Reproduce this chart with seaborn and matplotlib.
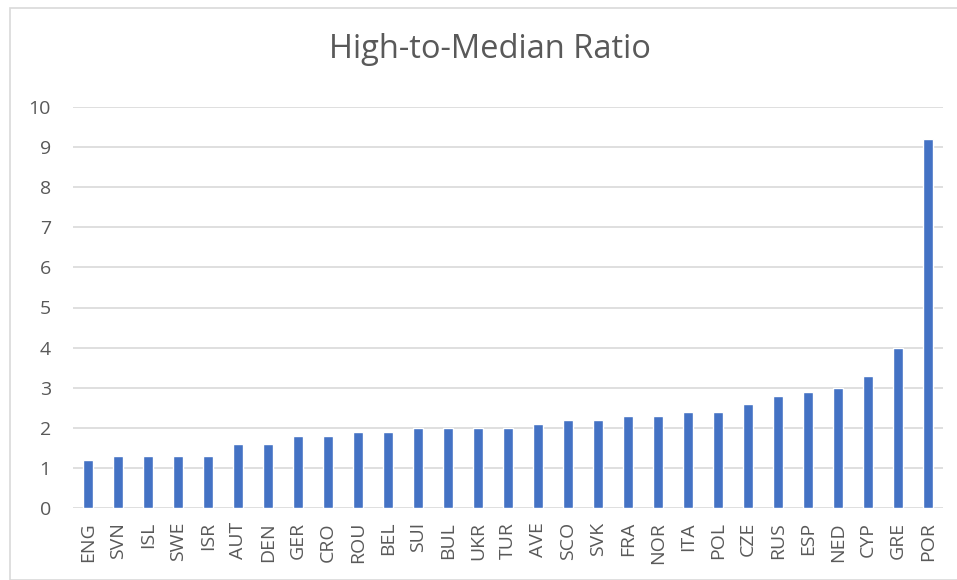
import pandas as pd
import seaborn as sns
import matplotlib.pyplot as plt
from matplotlib.patches import Rectangle

countries = ["ENG", "SVN", "ISL", "SWE", "ISR", "AUT", "DEN", "GER", "CRO", "ROU",
             "BEL", "SUI", "BUL", "UKR", "TUR", "AVE", "SCO", "SVK", "FRA", "NOR",
             "ITA", "POL", "CZE", "RUS", "ESP", "NED", "CYP", "GRE", "POR"]
ratios = [1.2, 1.3, 1.3, 1.3, 1.3, 1.6, 1.6, 1.8, 1.8, 1.9,
          1.9, 2.0, 2.0, 2.0, 2.0, 2.1, 2.2, 2.2, 2.3, 2.3,
          2.4, 2.4, 2.6, 2.8, 2.9, 3.0, 3.3, 4.0, 9.2]
y_ticks = list(range(0, 11))


def main():
    df = pd.DataFrame({"country": countries, "ratio": ratios})

    sns.set_theme(style="white")
    plt.rcParams["font.family"] = ["Open Sans", "DejaVu Sans"]

    fig = plt.figure(figsize=(9.57, 5.8), dpi=100)
    ax = fig.add_axes([73 / 957, 1 - 508 / 580, (943 - 73) / 957, (508 - 107) / 580])

    sns.barplot(data=df, x="country", y="ratio", color="#4472C4", width=0.33,
                saturation=1, ax=ax, zorder=3)

    ax.set_ylim(0, 10)
    ax.set_xlim(-0.5, len(countries) - 0.5)
    ax.set_yticks(y_ticks)
    ax.grid(axis="y", color="#D9D9D9", linewidth=1.2, zorder=0)
    for s in ax.spines.values():
        s.set_visible(False)
    ax.set_xlabel("")
    ax.set_ylabel("")
    ax.tick_params(axis="x", rotation=90, labelsize=14, colors="#595959", length=0, pad=10)
    ax.tick_params(axis="y", labelsize=14, colors="#595959", length=0, pad=16)

    fig.text(490 / 957, 1 - 50 / 580, "High-to-Median Ratio", ha="center", va="center",
             fontsize=23.5, color="#595959")

    # chart border like the spreadsheet frame
    fig.patches.append(Rectangle((10 / 957, 0), 1, 1 - 8 / 580, transform=fig.transFigure,
                                 fill=False, edgecolor="#D9D9D9", linewidth=1.2))

    fig.savefig("out.png", dpi=100)


if __name__ == "__main__":
    main()
